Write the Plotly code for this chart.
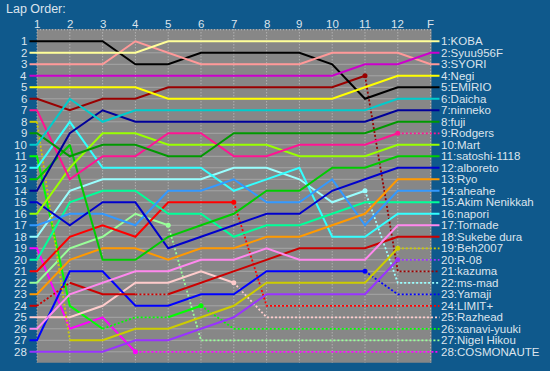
import plotly.graph_objects as go

# ---------------- data ----------------
LAP_LABELS = ["1", "2", "3", "4", "5", "6", "7", "8", "9", "10", "11", "12", "F"]
RANK_LABELS = [str(r) for r in range(1, 29)]

DRIVERS = ["KOBA", "Syuu956F", "SYORI", "Negi", "EMIRIO", "Daicha", "ninneko", "fuji",
           "Rodgers", "Mart", "satoshi-1118", "alboreto", "Ryo", "aheahe", "Akim Nenikkah",
           "napori", "Tornade", "Sukebe dura", "Beh2007", "R-08", "kazuma", "ms-mad",
           "Yamaji", "LIMIT+", "Razhead", "xanavi-yuuki", "Nigel Hikou", "COSMONAUTE"]

COLORS = ["#FFFF99", "#CC00CC", "#FF9999", "#FFFF00", "#000000", "#00CCCC", "#000099", "#009900",
          "#FF1493", "#99FF00", "#00CC00", "#0000CC", "#FF9900", "#3399FF", "#00FF99",
          "#33FFFF", "#FF88EE", "#CC0000", "#CCCC00", "#9933FF", "#990000", "#99FFFF",
          "#0000FF", "#FF0000", "#FFCCCC", "#00FF00", "#99FF99", "#FF00FF"]

# positions per lap (laps 1..12, F)
KOBA      = [2, 2, 2, 2, 1, 1, 1, 1, 1, 1, 1, 1, 1]
SYUU956F  = [4, 4, 4, 4, 4, 4, 4, 4, 4, 4, 3, 3, 2]
SYORI     = [3, 3, 3, 1, 2, 3, 3, 3, 3, 2, 2, 2, 3]
NEGI      = [5, 5, 5, 5, 6, 6, 6, 6, 6, 6, 5, 4, 4]
EMIRIO    = [1, 1, 1, 3, 3, 2, 2, 2, 2, 3, 6, 5, 5]
DAICHA    = [10, 6, 8, 7, 7, 7, 7, 7, 7, 7, 7, 6, 6]
NINNEKO   = [14, 9, 7, 8, 8, 8, 8, 8, 8, 8, 8, 7, 7]
FUJI      = [9, 11, 10, 10, 11, 11, 9, 9, 9, 9, 9, 8, 8]
RODGERS   = [7, 13, 11, 11, 9, 9, 11, 11, 10, 10, 10, 9, 9]
MART      = [16, 12, 9, 9, 10, 10, 10, 10, 11, 11, 11, 10, 10]
SATOSHI   = [13, 10, 20, 20, 18, 17, 16, 14, 14, 12, 12, 11, 11]
ALBORETO  = [15, 17, 15, 15, 19, 18, 17, 16, 16, 14, 13, 12, 12]
RYO       = [23, 20, 19, 19, 20, 19, 19, 18, 18, 17, 16, 13, 13]
AHEAHE    = [17, 16, 16, 17, 14, 14, 13, 15, 15, 13, 17, 14, 14]
AKIM      = [20, 15, 14, 14, 16, 16, 18, 17, 17, 16, 15, 15, 15]
NAPORI    = [12, 8, 12, 12, 12, 12, 14, 13, 12, 18, 18, 16, 16]
TORNADE   = [26, 23, 22, 21, 21, 20, 20, 19, 20, 20, 20, 17, 17]
SUKEBE    = [24, 22, 23, 23, 23, 22, 21, 20, 19, 19, 19, 18, 18]
BEH2007   = [8, 27, 27, 26, 26, 25, 24, 22, 22, 22, 22, 19, 19]
R08       = [28, 28, 28, 27, 27, 26, 25, 23, 23, 23, 23, 20, 20]
KAZUMA    = [6, 7, 6, 6, 5, 5, 5, 5, 5, 5, 4, 21, 21]
MSMAD     = [18, 14, 13, 13, 13, 13, 12, 12, 13, 15, 14, 22, 22]
YAMAJI    = [27, 21, 21, 24, 24, 23, 23, 21, 21, 21, 21, 23, 23]
LIMIT     = [21, 18, 17, 18, 15, 15, 15, 24, 24, 24, 24, 24, 24]
RAZHEAD   = [25, 25, 24, 22, 22, 21, 22, 25, 25, 25, 25, 25, 25]
XANAVI    = [11, 24, 26, 25, 25, 24, 26, 26, 26, 26, 26, 26, 26]
NIGEL     = [22, 19, 18, 16, 17, 27, 27, 27, 27, 27, 27, 27, 27]
COSMO     = [19, 26, 25, 28, 28, 28, 28, 28, 28, 28, 28, 28, 28]

POSITIONS = [KOBA, SYUU956F, SYORI, NEGI, EMIRIO, DAICHA, NINNEKO, FUJI, RODGERS, MART,
             SATOSHI, ALBORETO, RYO, AHEAHE, AKIM, NAPORI, TORNADE, SUKEBE, BEH2007, R08,
             KAZUMA, MSMAD, YAMAJI, LIMIT, RAZHEAD, XANAVI, NIGEL, COSMO]

# dotted lap-to-lap segments (segment i joins lap i+1 and lap i+2)
DOTTED = {
    "Rodgers": [11],
    "Sukebe dura": [0, 3],
    "Beh2007": [0, 11],
    "R-08": [11],
    "kazuma": [10, 11],
    "ms-mad": [10, 11],
    "Yamaji": [10, 11],
    "LIMIT+": list(range(6, 12)),
    "Razhead": list(range(6, 12)),
    "xanavi-yuuki": [2, 3] + list(range(5, 12)),
    "Nigel Hikou": list(range(4, 12)),
    "COSMONAUTE": list(range(3, 12)),
}

# ---------------- geometry ----------------
X0_PX, DX_PX = 37.0, 32.8      # lap 1 pixel, pixels per lap
Y0_PX, DY_PX = 41.3, 11.5      # rank 1 pixel, pixels per rank
W, H = 550, 371

def xd(px):
    return 1 + (px - X0_PX) / DX_PX

def yd(px):
    return 1 + (px - Y0_PX) / DY_PX

BG = "#0F598C"
PLOT_GRAY = "#878787"
TXT = "#DCE4EC"
FONT = "Liberation Sans, Arial, sans-serif"
DOT = "2px,2px"

laps = list(range(1, len(LAP_LABELS) + 1))
n_laps = len(laps)
x_left, x_right = xd(29.5), xd(439.5)

fig = go.Figure()

shapes = [dict(type="rect", xref="x", yref="y", x0=1, x1=xd(431.5), y0=yd(29.3), y1=yd(362.7),
               fillcolor=PLOT_GRAY, line=dict(width=0), layer="below")]
for r in range(1, len(RANK_LABELS) + 1):
    shapes.append(dict(type="line", xref="x", yref="y", x0=1, x1=n_laps, y0=r, y1=r,
                       line=dict(color="#A6A6A6", width=1), layer="below"))
for l in laps:
    shapes.append(dict(type="line", xref="x", yref="y", x0=l, x1=l, y0=yd(29.3), y1=yd(362.7),
                       line=dict(color="#C4C4C4", width=1, dash="1px,2px"), layer="below"))
shapes.append(dict(type="line", xref="x", yref="y", x0=1, x1=xd(431.5), y0=yd(29.8), y1=yd(29.8),
                   line=dict(color="#C4C4C4", width=1, dash="1px,2px"), layer="below"))

# draw lines: back-markers first
for idx in range(len(DRIVERS) - 1, -1, -1):
    name = DRIVERS[idx]
    pos = POSITIONS[idx]
    col = COLORS[idx]
    dotted = set(DOTTED.get(name, []))
    xs = [x_left] + laps + [x_right]
    ys = [pos[0]] + pos + [pos[-1]]
    styles = ["solid"] + ["dot" if i in dotted else "solid" for i in range(n_laps - 1)]
    styles.append(styles[-1])
    start = 0
    for i in range(1, len(styles) + 1):
        if i == len(styles) or styles[i] != styles[start]:
            seg_x = xs[start:i + 1]
            seg_y = ys[start:i + 1]
            fig.add_trace(go.Scatter(
                x=seg_x, y=seg_y, mode="lines",
                line=dict(color=col, width=2 if styles[start] == "solid" else 1.8,
                          dash="solid" if styles[start] == "solid" else DOT),
                hoverinfo="skip", showlegend=False))
            start = i
    seg_styles = styles[1:-1]
    if seg_styles[-1] == "dot":
        k = len(seg_styles) - 1
        while k >= 0 and seg_styles[k] == "dot":
            k -= 1
        if k >= 0:
            fig.add_trace(go.Scatter(
                x=[laps[k + 1]], y=[pos[k + 1]], mode="markers",
                marker=dict(color=col, size=5, symbol="circle"),
                hoverinfo="skip", showlegend=False))

annotations = []
annotations.append(dict(x=xd(4), y=yd(9), xref="x", yref="y", text="Lap Order:",
                        showarrow=False, xanchor="left", yanchor="middle",
                        font=dict(family=FONT, size=12.5, color=TXT)))
for l, lab in zip(laps, LAP_LABELS):
    annotations.append(dict(x=l, y=yd(24), xref="x", yref="y", text=lab, showarrow=False,
                            xanchor="center", yanchor="middle",
                            font=dict(family=FONT, size=11.5, color=TXT)))
for r, lab in enumerate(RANK_LABELS, start=1):
    annotations.append(dict(x=xd(27.5), y=r, xref="x", yref="y", text=lab, showarrow=False,
                            xanchor="right", yanchor="middle", borderpad=0,
                            font=dict(family=FONT, size=11.5, color=TXT)))
for idx, name in enumerate(DRIVERS):
    annotations.append(dict(x=xd(440), y=POSITIONS[idx][-1], xref="x", yref="y",
                            text=f"{POSITIONS[idx][-1]}:{name}", showarrow=False,
                            xanchor="left", yanchor="middle", borderpad=0,
                            font=dict(family=FONT, size=11.5, color=TXT)))

fig.update_layout(
    width=W, height=H, margin=dict(l=0, r=0, t=0, b=0),
    paper_bgcolor=BG, plot_bgcolor=BG,
    xaxis=dict(range=[xd(0), xd(W)], visible=False, fixedrange=True),
    yaxis=dict(range=[yd(H), yd(0)], visible=False, fixedrange=True),
    shapes=shapes, annotations=annotations, showlegend=False,
)

fig.write_html("out.html", config={"displayModeBar": False},
               post_script="document.body.style.margin='0px';document.body.style.overflow='hidden';")
